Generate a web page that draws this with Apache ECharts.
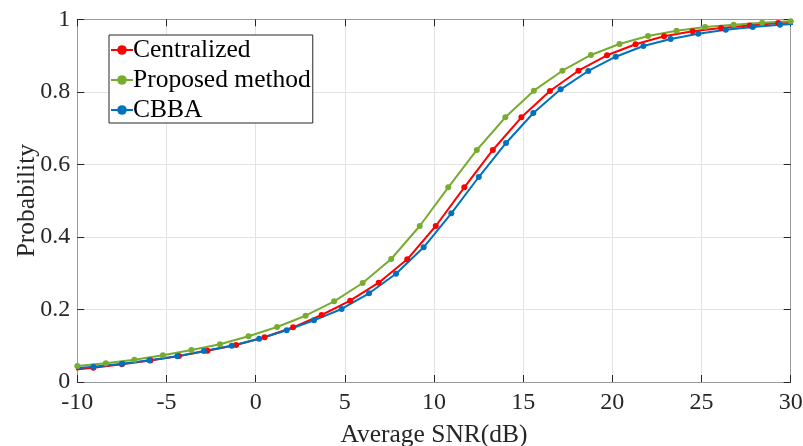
<!DOCTYPE html>
<html>
<head>
<meta charset="utf-8">
<script src="https://cdn.jsdelivr.net/npm/echarts@6/dist/echarts.min.js"></script>
<style>html,body{margin:0;padding:0;background:#fff;}#c{width:803px;height:446px;}</style>
</head>
<body>
<div id="c"></div>
<script>
const seriesNames = ['Centralized', 'Proposed method', 'CBBA'];
const xTicks = [-10, -5, 0, 5, 10, 15, 20, 25, 30];
const yTicks = [0, 0.2, 0.4, 0.6, 0.8, 1];

const snrCentralized = [-10.7, -9.1, -7.5, -5.9, -4.3, -2.7, -1.1, 0.5, 2.1, 3.7, 5.3, 6.9, 8.5, 10.1, 11.7, 13.3, 14.9, 16.5, 18.1, 19.7, 21.3, 22.9, 24.5, 26.1, 27.7, 29.3, 30.9];
const probCentralized = [0.031, 0.039, 0.049, 0.059, 0.0717, 0.0863, 0.102, 0.1232, 0.1508, 0.1847, 0.2242, 0.2738, 0.3383, 0.4301, 0.5368, 0.6397, 0.7298, 0.8023, 0.8583, 0.9008, 0.9311, 0.9531, 0.9669, 0.976, 0.983, 0.9898, 0.993];

const snrProposed = [-10, -8.4, -6.8, -5.2, -3.6, -2, -0.4, 1.2, 2.8, 4.4, 6, 7.6, 9.2, 10.8, 12.4, 14, 15.6, 17.2, 18.8, 20.4, 22, 23.6, 25.2, 26.8, 28.4, 30];
const probProposed = [0.044, 0.0516, 0.0615, 0.0736, 0.0882, 0.1039, 0.126, 0.1516, 0.1828, 0.2225, 0.273, 0.3391, 0.4301, 0.5368, 0.6397, 0.7298, 0.8032, 0.8583, 0.9016, 0.9319, 0.954, 0.9686, 0.9788, 0.9851, 0.9906, 0.9945];

const snrCBBA = [-10.64, -9.1, -7.48, -5.96, -4.39, -2.9, -1.34, 0.2, 1.74, 3.27, 4.82, 6.36, 7.87, 9.42, 10.97, 12.51, 14.04, 15.57, 17.1, 18.65, 20.19, 21.74, 23.27, 24.82, 26.36, 27.87, 29.4, 30.94];
const probCBBA = [0.036, 0.042, 0.0505, 0.0598, 0.0709, 0.0855, 0.1001, 0.1194, 0.1425, 0.1701, 0.2013, 0.2446, 0.2986, 0.3714, 0.4651, 0.5652, 0.659, 0.7417, 0.807, 0.8575, 0.8969, 0.9264, 0.9457, 0.9603, 0.9713, 0.9788, 0.9851, 0.989];

const colors = ['#FF0000', '#77AC30', '#0072BD'];
const FONT = 'Liberation Serif, Times New Roman, serif';
const TXT = '#262626';

function pairs(xs, ys) { return xs.map((x, i) => [x, ys[i]]); }

function mkSeries(name, data, color) {
  return {
    name: name, type: 'line', data: data,
    symbol: 'circle', symbolSize: 6, showSymbol: true,
    lineStyle: { color: color, width: 2 },
    itemStyle: { color: color },
    emphasis: { disabled: true },
    animation: false, clip: true
  };
}

const chart = echarts.init(document.getElementById('c'), null, { renderer: 'canvas' });
const baseX = {
  type: 'value', min: xTicks[0], max: xTicks[xTicks.length - 1], interval: xTicks[1] - xTicks[0]
};
const baseY = {
  type: 'value', min: yTicks[0], max: yTicks[yTicks.length - 1], interval: yTicks[1] - yTicks[0]
};
const axLine = { show: true, onZero: false, lineStyle: { color: '#9a9a9a', width: 1 } };
const axTick = { show: true, inside: true, length: 7, lineStyle: { color: TXT, width: 1 } };
chart.setOption({
  animation: false,
  backgroundColor: '#ffffff',
  grid: { left: 77.3, right: 12.3, top: 19.3, bottom: 64, containLabel: false, outerBoundsMode: 'none' },
  legend: {
    data: seriesNames,
    orient: 'vertical',
    left: 109, top: 35,
    itemWidth: 22, itemHeight: 12, itemGap: 4,
    padding: [2, 2, 0, 1],
    backgroundColor: '#ffffff',
    borderColor: '#262626', borderWidth: 1,
    textStyle: { fontFamily: FONT, fontSize: 25.5, color: '#000', padding: [0, 0, 0, -5] }
  },
  xAxis: [
    Object.assign({}, baseX, {
      position: 'bottom',
      name: 'Average SNR(dB)', nameLocation: 'middle', nameGap: 40, nameMoveOverlap: false,
      nameTextStyle: { fontFamily: FONT, fontSize: 25.5, color: TXT },
      axisLine: axLine, axisTick: axTick,
      axisLabel: { fontFamily: FONT, fontSize: 24, color: TXT, margin: 9 },
      splitLine: { show: true, lineStyle: { color: '#e3e3e3', width: 1 } }
    }),
    Object.assign({}, baseX, {
      position: 'top',
      axisLine: axLine, axisTick: axTick,
      axisLabel: { show: false },
      splitLine: { show: false }
    })
  ],
  yAxis: [
    Object.assign({}, baseY, {
      position: 'left',
      name: 'Probability', nameLocation: 'middle', nameGap: 37, nameRotate: 90, nameMoveOverlap: false,
      nameTextStyle: { fontFamily: FONT, fontSize: 25.5, color: TXT },
      axisLine: axLine, axisTick: axTick,
      axisLabel: { fontFamily: FONT, fontSize: 24, color: TXT, margin: 7 },
      splitLine: { show: true, lineStyle: { color: '#e3e3e3', width: 1 } }
    }),
    Object.assign({}, baseY, {
      position: 'right',
      axisLine: axLine, axisTick: axTick,
      axisLabel: { show: false },
      splitLine: { show: false }
    })
  ],
  series: [
    mkSeries(seriesNames[0], pairs(snrCentralized, probCentralized), colors[0]),
    mkSeries(seriesNames[1], pairs(snrProposed, probProposed), colors[1]),
    mkSeries(seriesNames[2], pairs(snrCBBA, probCBBA), colors[2])
  ]
});
</script>
</body>
</html>
